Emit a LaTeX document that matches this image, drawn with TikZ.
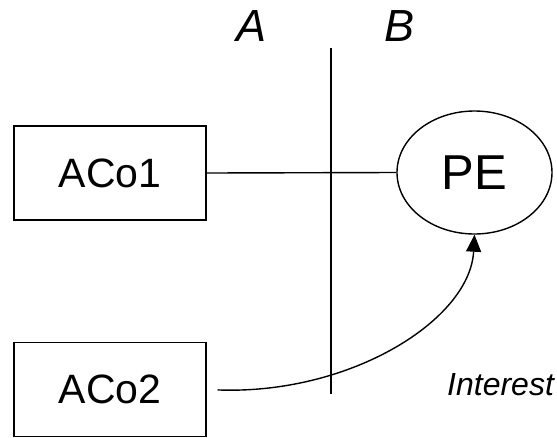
\documentclass[tikz,border=0pt]{standalone}
\usepackage{fontspec}
\setmainfont{Liberation Sans}
\usetikzlibrary{arrows.meta,shapes.geometric}
\begin{document}
\begin{tikzpicture}[x=1pt,y=-1pt,
  box/.style={draw,line width=1.4pt,minimum width=192pt,minimum height=94pt,inner sep=0pt,font=\fontsize{41}{48}\selectfont},
  oval/.style={draw,ellipse,line width=1.4pt,minimum width=155pt,minimum height=123pt,inner sep=0pt,font=\fontsize{49}{56}\selectfont},
  lbl/.style={inner sep=0pt,font=\fontsize{45}{52}\selectfont\itshape},
  conn/.style={line width=1.4pt}]
\useasboundingbox (0,0) rectangle (557,437);
\node[box] (aco1) at (110,173) {ACo1};
\node[box] (aco2) at (110,389.5) {ACo2};
\node[oval] (pe) at (474.5,172.5) {PE};
\node[lbl] (la) at (252,26) {A};
\node[lbl] (lb) at (400,26) {B};
\node[inner sep=0pt,anchor=base west,font=\fontsize{32}{38}\selectfont\itshape] (int) at (447,395) {Interest};
\coordinate (vtop) at (331,48);
\coordinate (vbot) at (331,394);
\draw[conn] (vtop) -- (vbot);
\draw[conn] (aco1.east) -- (pe.west);
\draw[conn,-{Triangle[length=17pt,width=15pt]},shorten <=11pt] (aco2.east) .. controls (350,395) and (470,320) .. (pe.south);
\end{tikzpicture}
\end{document}
